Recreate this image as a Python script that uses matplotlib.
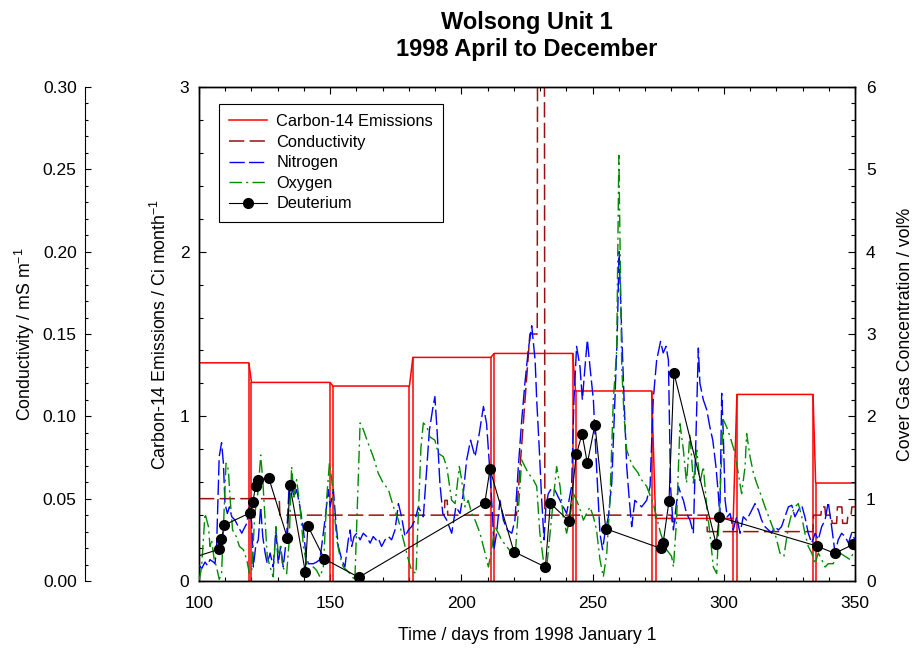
import matplotlib
matplotlib.use("Agg")
import matplotlib.pyplot as plt
from matplotlib.ticker import MultipleLocator, FormatStrFormatter
from matplotlib.lines import Line2D

plt.rcParams['font.family'] = ['Liberation Sans', 'DejaVu Sans']

# ---------------- data ----------------
# Carbon-14 monthly emissions (Ci/month), month start / end days
c14_start = [90, 120, 151, 181.5, 212.5, 243.5, 274, 305, 335]
c14_end = [119, 150, 180.2, 211.2, 242.4, 272.5, 303.6, 334, 365]
c14_value = [1.325, 1.206, 1.184, 1.358, 1.382, 1.154, 0.38, 1.133, 0.595]

# Conductivity (mS/m)
cond_day = [100, 130.6, 130.8, 193.5, 193.7, 194.6, 194.8, 221.0, 226.1, 228.9, 229.2,
            231.5, 231.8, 280.0, 280.3, 281.3, 281.5, 293.5, 293.7, 334.0, 334.2,
            337.0, 337.3, 338.5, 338.8, 341.0, 341.3, 343.0, 343.3, 345.0, 345.3,
            347.0, 347.3, 348.5, 348.8, 350.0]
cond_value = [0.05, 0.05, 0.04, 0.04, 0.049, 0.049, 0.04, 0.04, 0.150, 0.150, 0.6,
              0.6, 0.04, 0.04, 0.036, 0.036, 0.04, 0.04, 0.03, 0.03, 0.04,
              0.04, 0.045, 0.045, 0.04, 0.04, 0.035, 0.035, 0.045, 0.045, 0.035,
              0.035, 0.04, 0.04, 0.045, 0.045]

# Nitrogen (vol%)
n2_day = [100.1, 101.0, 102.3, 103.2, 104.2, 105.5, 106.1, 106.7, 107.7, 108.6, 109.3, 109.9,
          110.8, 111.6, 112.5, 113.7, 115.0, 116.3, 116.9, 118.2, 119.2, 120.1, 120.7, 121.6,
          122.6, 123.5, 124.3, 125.2, 126.0, 127.1, 128.3, 129.3, 130.2, 131.1, 132.1, 133.4,
          134.4, 135.3, 136.2, 137.2, 138.5, 139.8, 140.8, 141.7, 143.6, 144.8, 146.1, 148.0,
          149.3, 150.0, 151.2, 152.2, 153.1, 154.4, 155.6, 156.9, 157.6, 158.2, 159.1, 160.1,
          161.4, 162.6, 163.9, 165.2, 166.4, 167.5, 168.3, 169.6, 170.9, 172.2, 173.4, 174.7,
          176.0, 177.2, 178.5, 179.8, 181.0, 182.3, 183.6, 185.5, 186.5, 187.8, 189.0, 189.9,
          190.8, 191.8, 192.9, 194.4, 196.3, 197.9, 199.5, 200.7, 202.0, 203.5, 205.2, 206.8,
          208.4, 209.6, 210.9, 211.9, 212.4, 213.4, 214.7, 216.0, 217.5, 219.2, 220.4, 221.7,
          223.0, 224.2, 225.5, 226.8, 228.1, 228.7, 229.7, 230.6, 231.5, 232.2, 233.1, 234.4,
          235.7, 236.9, 238.2, 240.1, 242.0, 242.9, 243.9, 245.2, 246.1, 247.1, 248.0, 249.0,
          250.3, 251.5, 252.8, 253.8, 254.7, 256.0, 257.3, 258.5, 259.4, 260.1, 261.1, 262.0,
          263.0, 264.0, 264.9, 266.1, 267.4, 268.7, 270.6, 271.9, 273.1, 274.4, 275.9, 276.9,
          278.0, 278.9, 279.7, 280.8, 281.8, 282.7, 283.6, 284.6, 285.8, 287.1, 288.4, 289.4,
          290.3, 290.9, 292.2, 293.5, 294.7, 295.8, 297.0, 297.9, 298.5, 299.2, 299.8, 300.5,
          301.3, 302.4, 303.6, 304.9, 306.2, 307.4, 308.7, 310.0, 311.9, 313.2, 314.4, 315.7,
          317.0, 318.2, 319.5, 320.8, 322.0, 323.3, 324.6, 325.9, 327.1, 328.4, 329.7, 330.9,
          332.2, 333.5, 334.8, 336.0, 337.3, 338.6, 339.8, 341.1, 342.4, 343.6, 344.9, 346.2,
          347.5, 348.7, 350.0]
n2_value = [0.19, 0.15, 0.23, 0.19, 0.26, 0.23, 0.21, 0.42, 1.51, 1.68, 1.43, 0.94,
            0.82, 0.90, 0.78, 0.74, 0.66, 0.58, 0.62, 0.70, 0.90, 0.70, 0.17, 0.42,
            0.50, 0.90, 0.54, 0.34, 0.21, 0.34, 0.17, 0.62, 0.21, 0.42, 0.17, 0.54,
            1.19, 1.15, 1.02, 1.11, 0.90, 0.62, 0.30, 0.21, 0.21, 0.23, 0.26, 0.74,
            1.11, 0.90, 1.11, 0.70, 0.42, 0.26, 0.17, 0.50, 0.62, 0.42, 0.54, 0.58,
            0.50, 0.58, 0.54, 0.46, 0.54, 0.50, 0.52, 0.42, 0.50, 0.54, 0.50, 0.62,
            0.94, 0.78, 0.54, 0.62, 0.66, 0.74, 0.90, 0.78, 1.23, 1.83, 2.08, 2.24,
            1.79, 1.19, 0.82, 0.74, 0.58, 0.90, 0.82, 1.06, 1.47, 1.71, 1.51, 1.79,
            2.12, 1.91, 1.31, 0.78, 0.38, 0.58, 0.98, 0.74, 0.62, 0.58, 0.74, 1.39,
            1.96, 2.40, 2.81, 3.10, 2.68, 2.20, 1.59, 0.98, 0.50, 0.90, 1.06, 1.13,
            1.10, 1.02, 0.94, 0.82, 1.15, 2.20, 2.85, 2.60, 2.20, 2.60, 2.93, 2.60,
            2.20, 1.39, 0.58, 0.38, 0.58, 0.78, 1.19, 2.20, 3.01, 4.00, 3.01, 2.20,
            1.39, 0.98, 0.66, 0.98, 0.94, 0.90, 0.98, 1.15, 2.20, 2.68, 2.91, 2.77,
            2.85, 2.68, 1.15, 0.62, 0.90, 1.15, 1.06, 0.98, 0.82, 0.74, 0.58, 1.79,
            2.83, 2.40, 2.20, 2.08, 1.87, 1.71, 1.39, 1.06, 0.78, 2.28, 1.79, 0.98,
            0.78, 0.82, 0.62, 0.78, 0.58, 0.78, 0.74, 0.82, 0.94, 0.86, 0.74, 0.66,
            0.62, 0.58, 0.66, 0.62, 0.66, 0.78, 0.90, 0.92, 0.78, 0.86, 0.92, 0.78,
            0.58, 0.46, 0.58, 0.50, 0.66, 0.74, 0.96, 0.66, 0.34, 0.50, 0.58, 0.54,
            0.46, 0.58, 0.50]

# Oxygen (vol%)
o2_day = [100.1, 101.0, 102.3, 103.6, 104.2, 104.8, 105.8, 106.7, 107.7, 108.6, 110.3, 111.2,
          111.8, 112.8, 114.2, 115.4, 116.9, 118.2, 119.2, 120.1, 121.3, 122.6, 123.5, 124.3,
          125.2, 126.0, 127.1, 128.3, 129.3, 130.2, 131.1, 131.9, 133.4, 134.4, 135.3, 136.2,
          137.2, 138.5, 139.8, 141.2, 142.3, 143.6, 144.8, 146.1, 147.4, 148.7, 149.7, 150.6,
          151.6, 152.5, 153.7, 155.0, 156.3, 157.6, 159.4, 160.7, 161.4, 162.6, 164.5, 166.4,
          168.3, 170.2, 172.2, 174.1, 176.0, 177.9, 179.8, 181.0, 182.7, 183.6, 184.6, 185.5,
          186.8, 188.0, 189.9, 191.2, 193.1, 194.4, 196.3, 197.6, 199.2, 200.1, 201.4, 202.6,
          203.9, 205.2, 207.1, 209.0, 210.3, 211.5, 212.8, 214.1, 215.3, 217.2, 219.2, 220.4,
          221.7, 223.0, 224.2, 225.5, 227.4, 228.7, 229.9, 231.2, 232.5, 233.8, 235.0, 236.3,
          237.6, 238.8, 240.1, 241.4, 242.7, 243.9, 244.9, 246.5, 247.7, 249.0, 250.3, 251.5,
          252.8, 254.1, 255.4, 256.6, 257.9, 259.2, 260.0, 261.1, 262.0, 263.0, 264.3, 265.5,
          267.4, 268.1, 270.6, 273.1, 275.9, 278.2, 280.1, 280.8, 282.0, 283.3, 284.6, 285.8,
          287.1, 288.4, 289.7, 290.9, 292.2, 293.5, 294.7, 296.0, 297.3, 298.5, 299.8, 301.1,
          302.4, 304.3, 305.5, 306.8, 308.1, 308.7, 310.0, 311.3, 312.5, 314.0, 315.7, 317.6,
          319.5, 321.4, 322.9, 324.6, 325.9, 327.1, 328.4, 329.7, 330.9, 332.2, 333.5, 334.8,
          336.0, 337.3, 338.6, 339.8, 341.7, 343.0, 344.3, 346.2, 348.1, 350.0]
o2_value = [0.01, 0.17, 0.82, 0.66, 0.42, 0.50, 0.26, 0.17, 0.02, 0.09, 1.43, 1.35,
            1.02, 0.62, 0.54, 0.42, 0.38, 0.26, 0.09, 0.13, 0.82, 1.11, 1.53, 1.23,
            0.74, 0.30, 0.17, 0.05, 0.66, 0.34, 0.42, 0.17, 0.09, 0.50, 1.39, 1.02,
            1.23, 0.90, 0.42, 0.17, 0.13, 0.17, 0.13, 0.05, 0.17, 1.02, 1.43, 1.23,
            0.82, 0.50, 0.30, 0.17, 0.13, 0.09, 0.01, 1.23, 1.92, 1.84, 1.67, 1.51,
            1.31, 1.19, 1.11, 0.90, 0.74, 0.50, 0.26, 0.13, 0.09, 0.82, 1.63, 1.92,
            1.88, 1.75, 1.71, 1.55, 1.51, 1.39, 0.98, 0.94, 1.39, 1.23, 0.90, 0.98,
            0.82, 0.74, 0.58, 0.34, 0.17, 0.38, 0.66, 0.58, 0.50, 0.42, 0.34, 0.26,
            0.86, 1.47, 1.39, 1.31, 1.23, 1.15, 0.58, 0.26, 0.17, 0.58, 0.98, 1.39,
            1.15, 0.78, 0.58, 0.78, 1.06, 0.98, 0.90, 0.74, 0.82, 0.90, 0.78, 0.62,
            0.26, 0.05, 0.34, 0.98, 2.20, 2.81, 5.17, 2.60, 2.00, 1.59, 1.47, 1.39,
            1.31, 1.25, 1.15, 0.94, 0.58, 0.38, 0.30, 0.17, 0.74, 1.91, 1.59, 1.19,
            1.79, 1.19, 1.59, 1.19, 1.39, 0.90, 0.58, 0.17, 0.09, 0.98, 1.96, 1.87,
            1.75, 1.55, 1.31, 1.06, 1.39, 1.79, 1.51, 1.31, 1.19, 1.06, 0.90, 0.74,
            0.58, 0.34, 0.30, 0.66, 0.82, 0.90, 0.94, 0.78, 0.58, 0.42, 0.34, 0.21,
            0.34, 0.26, 0.17, 0.21, 0.21, 0.30, 0.34, 0.30, 0.26, 0.38]

# Deuterium (vol%)
d2_day = [95.0, 107.6, 108.5, 109.7, 119.6, 120.5, 121.6, 122.5, 126.6, 133.7, 134.6, 140.5,
          141.5, 147.8, 160.9, 208.9, 210.9, 220.0, 232.0, 233.9, 241.0, 243.8, 246.0, 248.0,
          250.9, 255.0, 275.9, 276.9, 279.1, 281.0, 297.1, 298.2, 335.4, 342.3, 349.4]
d2_value = [0.256, 0.385, 0.506, 0.68, 0.83, 0.956, 1.157, 1.227, 1.25, 0.52, 1.17, 0.113,
            0.668, 0.267, 0.045, 0.947, 1.357, 0.356, 0.17, 0.943, 0.729, 1.539, 1.785, 1.43,
            1.90, 0.635, 0.397, 0.465, 0.968, 2.526, 0.446, 0.777, 0.425, 0.336, 0.446]

x_ticks = [100, 150, 200, 250, 300, 350]

# ---------------- figure ----------------
TICK_FS = 12.5
LABEL_FS = 12.8

fig = plt.figure(figsize=(9.14, 6.48), dpi=100)
ax = fig.add_axes([199 / 914, 1 - 581 / 648, 656 / 914, 494 / 648])

red = '#ff0000'
cond_col = '#9b1010'
blue = '#0000ff'
green = '#008a00'

# Carbon-14: month plateaus joined, with drop lines to zero at month boundaries
c14_x, c14_y = [], []
for s, e, v in zip(c14_start, c14_end, c14_value):
    c14_x += [s, e]
    c14_y += [v, v]
ax.plot(c14_x, c14_y, color=red, lw=1.1, zorder=2)
ax.vlines(c14_start, 0, c14_value, color=red, lw=1.1, zorder=2)
ax.vlines(c14_end, 0, c14_value, color=red, lw=1.1, zorder=2)

ax.set_xlim(100, 350)
ax.set_ylim(0, 3)
ax.set_xticks(x_ticks)
ax.xaxis.set_minor_locator(MultipleLocator(10))
ax.yaxis.set_major_locator(MultipleLocator(1))
ax.yaxis.set_minor_locator(MultipleLocator(0.2))
ax.tick_params(axis='both', which='both', direction='in', top=True, right=False,
               labelsize=TICK_FS)
ax.tick_params(axis='both', which='major', length=5, width=0.8)
ax.tick_params(axis='both', which='minor', length=3, width=0.8)
ax.tick_params(axis='x', pad=11)
ax.tick_params(axis='y', pad=7)
ax.set_xlabel('Time / days from 1998 January 1', fontsize=LABEL_FS, labelpad=11)
ax.set_ylabel('Carbon-14 Emissions / Ci month$^{\\mathregular{-1}}$', fontsize=LABEL_FS,
              labelpad=6.5)
ax.set_title('Wolsong Unit 1\n1998 April to December', fontsize=17, fontweight='bold',
             pad=22.5, linespacing=1.2)

# Conductivity axis (detached, far left)
axc = ax.twinx()
axc.plot(cond_day, cond_value, color=cond_col, lw=1.1, dashes=(10, 3.5), zorder=3)
axc.set_ylim(0, 0.30)
axc.spines['right'].set_visible(False)
axc.spines['top'].set_visible(False)
axc.spines['bottom'].set_visible(False)
axc.spines['left'].set_visible(True)
axc.spines['left'].set_position(('axes', (85 - 199) / 656))
axc.yaxis.set_ticks_position('left')
axc.yaxis.set_label_position('left')
axc.yaxis.set_major_locator(MultipleLocator(0.05))
axc.yaxis.set_minor_locator(MultipleLocator(0.01))
axc.yaxis.set_major_formatter(FormatStrFormatter('%.2f'))
axc.tick_params(axis='y', which='both', direction='in', labelsize=TICK_FS, pad=6)
axc.tick_params(axis='y', which='major', length=4, width=0.8)
axc.tick_params(axis='y', which='minor', length=2, width=0.8)
axc.set_ylabel('Conductivity / mS m$^{\\mathregular{-1}}$', fontsize=LABEL_FS, labelpad=4)

# Cover gas axis (right)
axg = ax.twinx()
axg.plot(n2_day, n2_value, color=blue, lw=1.0, dashes=(11, 3), zorder=4)
axg.plot(o2_day, o2_value, color=green, lw=1.0, dashes=(9, 3, 1.5, 3), zorder=5)
axg.plot(d2_day, d2_value, color='black', lw=0.8, marker='o', ms=7, zorder=6)
axg.set_ylim(0, 6)
axg.set_xlim(100, 350)
axg.yaxis.set_major_locator(MultipleLocator(1))
axg.yaxis.set_minor_locator(MultipleLocator(0.2))
axg.tick_params(axis='y', which='both', direction='in', labelsize=TICK_FS, pad=8)
axg.tick_params(axis='y', which='major', length=5, width=0.8)
axg.tick_params(axis='y', which='minor', length=3, width=0.8)
axg.set_ylabel('Cover Gas Concentration / vol%', fontsize=LABEL_FS, labelpad=15)

for a in (ax, axg):
    for sp in a.spines.values():
        sp.set_linewidth(1.0)

handles = [
    Line2D([], [], color=red, lw=1.1),
    Line2D([], [], color=cond_col, lw=1.1, dashes=(10, 3.5)),
    Line2D([], [], color=blue, lw=1.0, dashes=(11, 3)),
    Line2D([], [], color=green, lw=1.0, dashes=(9, 3, 1.5, 3)),
    Line2D([], [], color='black', lw=0.8, marker='o', ms=7),
]
labels = ['Carbon-14 Emissions', 'Conductivity', 'Nitrogen', 'Oxygen', 'Deuterium']
leg = axg.legend(handles, labels, loc='upper left',
                 bbox_to_anchor=((219 - 199) / 656, (581 - 104) / 494),
                 bbox_transform=ax.transAxes, borderaxespad=0, fontsize=11.8,
                 frameon=True, fancybox=False, edgecolor='black', framealpha=1,
                 handlelength=2.3, handletextpad=0.57, labelspacing=0.34, borderpad=0.62)
leg.get_frame().set_linewidth(0.8)

fig.savefig('out.png', dpi=100)
